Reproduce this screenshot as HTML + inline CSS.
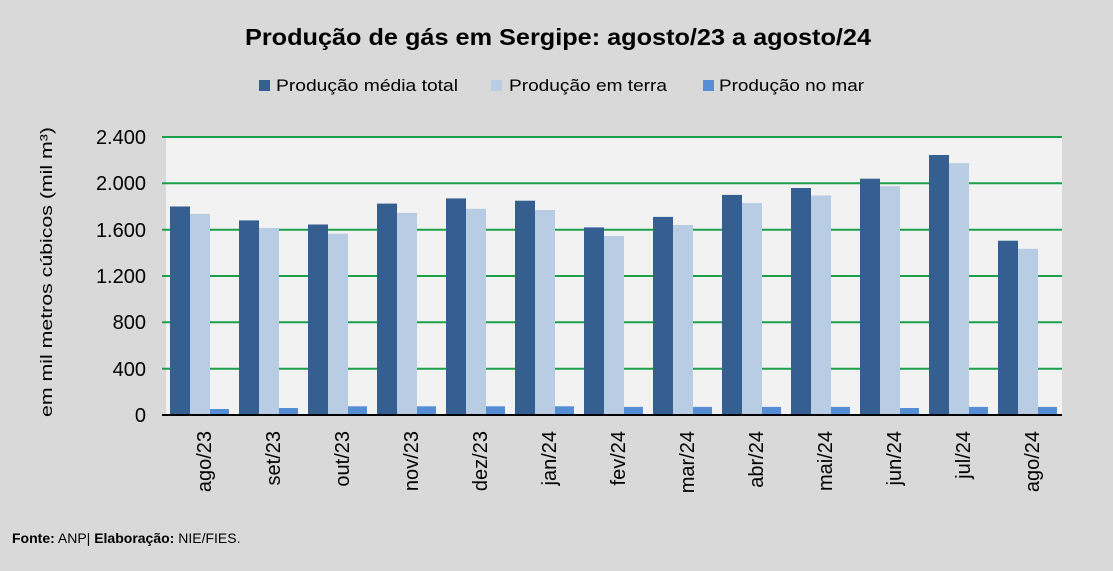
<!DOCTYPE html>
<html><head><meta charset="utf-8"><style>
html,body{margin:0;padding:0;background:#d9d9d9;}
svg{display:block;font-family:"Liberation Sans",sans-serif;}
</style></head><body>
<svg width="1113" height="571" viewBox="0 0 1113 571">
<rect width="1113" height="571" fill="#d9d9d9"/>
<text x="558" y="45" text-anchor="middle" font-size="23" font-weight="bold" textLength="626" lengthAdjust="spacingAndGlyphs">Produção de gás em Sergipe: agosto/23 a agosto/24</text>
<rect x="259" y="80" width="11" height="11" fill="#365f91"/>
<text x="276" y="91" font-size="17" textLength="182" lengthAdjust="spacingAndGlyphs">Produção média total</text>
<rect x="491" y="80" width="11" height="11" fill="#b8cce4"/>
<text x="509" y="91" font-size="17" textLength="158" lengthAdjust="spacingAndGlyphs">Produção em terra</text>
<rect x="703" y="80" width="11" height="11" fill="#558ed5"/>
<text x="719" y="91" font-size="17" textLength="145" lengthAdjust="spacingAndGlyphs">Produção no mar</text>
<rect x="166" y="137" width="896" height="278" fill="#f2f2f2"/>
<g stroke="#1aa04a" stroke-width="2">
<line x1="162" y1="137" x2="1062" y2="137"/>
<line x1="162" y1="183.3" x2="1062" y2="183.3"/>
<line x1="162" y1="229.7" x2="1062" y2="229.7"/>
<line x1="162" y1="276" x2="1062" y2="276"/>
<line x1="162" y1="322.3" x2="1062" y2="322.3"/>
<line x1="162" y1="368.7" x2="1062" y2="368.7"/>
</g>
<g font-size="20" text-anchor="end">
<text x="146" y="144">2.400</text><text x="146" y="190">2.000</text><text x="146" y="237">1.600</text><text x="146" y="283">1.200</text><text x="146" y="329">800</text><text x="146" y="376">400</text><text x="146" y="422">0</text>
</g>
<text transform="translate(52,272) rotate(-90)" text-anchor="middle" font-size="17" textLength="290" lengthAdjust="spacingAndGlyphs">em mil metros cúbicos (mil m³)</text>
<g fill="#365f91">
<rect x="170" y="206.5" width="20" height="208.5"/>
<rect x="239" y="220.4" width="20" height="194.6"/>
<rect x="308" y="224.5" width="20" height="190.5"/>
<rect x="377" y="203.6" width="20" height="211.4"/>
<rect x="446" y="198.4" width="20" height="216.6"/>
<rect x="515" y="200.7" width="20" height="214.3"/>
<rect x="584" y="227.4" width="20" height="187.6"/>
<rect x="653" y="216.9" width="20" height="198.1"/>
<rect x="722" y="194.9" width="20" height="220.1"/>
<rect x="791" y="188" width="20" height="227"/>
<rect x="860" y="178.7" width="20" height="236.3"/>
<rect x="929" y="155" width="20" height="260"/>
<rect x="998" y="240.7" width="20" height="174.3"/>
</g>
<g fill="#b8cce4">
<rect x="190" y="213.9" width="20" height="201.1"/>
<rect x="259" y="227.9" width="20" height="187.1"/>
<rect x="328" y="233.7" width="20" height="181.3"/>
<rect x="397" y="212.9" width="20" height="202.1"/>
<rect x="466" y="208.8" width="20" height="206.2"/>
<rect x="535" y="210" width="20" height="205"/>
<rect x="604" y="236" width="20" height="179"/>
<rect x="673" y="225" width="20" height="190"/>
<rect x="742" y="203" width="20" height="212"/>
<rect x="811" y="195.5" width="20" height="219.5"/>
<rect x="880" y="186.2" width="20" height="228.8"/>
<rect x="949" y="163.1" width="20" height="251.9"/>
<rect x="1018" y="248.8" width="20" height="166.2"/>
</g>
<g fill="#558ed5">
<rect x="210" y="409" width="19" height="6"/>
<rect x="279" y="408" width="19" height="7"/>
<rect x="348" y="406.3" width="19" height="8.7"/>
<rect x="417" y="406.3" width="19" height="8.7"/>
<rect x="486" y="406.3" width="19" height="8.7"/>
<rect x="555" y="406.3" width="19" height="8.7"/>
<rect x="624" y="406.9" width="19" height="8.1"/>
<rect x="693" y="406.9" width="19" height="8.1"/>
<rect x="762" y="406.9" width="19" height="8.1"/>
<rect x="831" y="406.9" width="19" height="8.1"/>
<rect x="900" y="408" width="19" height="7"/>
<rect x="969" y="406.9" width="19" height="8.1"/>
<rect x="1038" y="406.9" width="19" height="8.1"/>
</g>
<line x1="162" y1="415" x2="1062" y2="415" stroke="#000" stroke-width="2"/>
<g font-size="20" text-anchor="end">
<text transform="translate(211,431) rotate(-90)">ago/23</text>
<text transform="translate(280,431) rotate(-90)">set/23</text>
<text transform="translate(349,431) rotate(-90)">out/23</text>
<text transform="translate(418,431) rotate(-90)">nov/23</text>
<text transform="translate(487,431) rotate(-90)">dez/23</text>
<text transform="translate(556,431) rotate(-90)">jan/24</text>
<text transform="translate(625,431) rotate(-90)">fev/24</text>
<text transform="translate(694,431) rotate(-90)">mar/24</text>
<text transform="translate(763,431) rotate(-90)">abr/24</text>
<text transform="translate(832,431) rotate(-90)">mai/24</text>
<text transform="translate(901,431) rotate(-90)">jun/24</text>
<text transform="translate(970,431) rotate(-90)">jul/24</text>
<text transform="translate(1039,431) rotate(-90)">ago/24</text>
</g>
<text x="12" y="543" font-size="14"><tspan font-weight="bold">Fonte:</tspan> ANP| <tspan font-weight="bold">Elaboração:</tspan> NIE/FIES.</text>
</svg>
</body></html>
